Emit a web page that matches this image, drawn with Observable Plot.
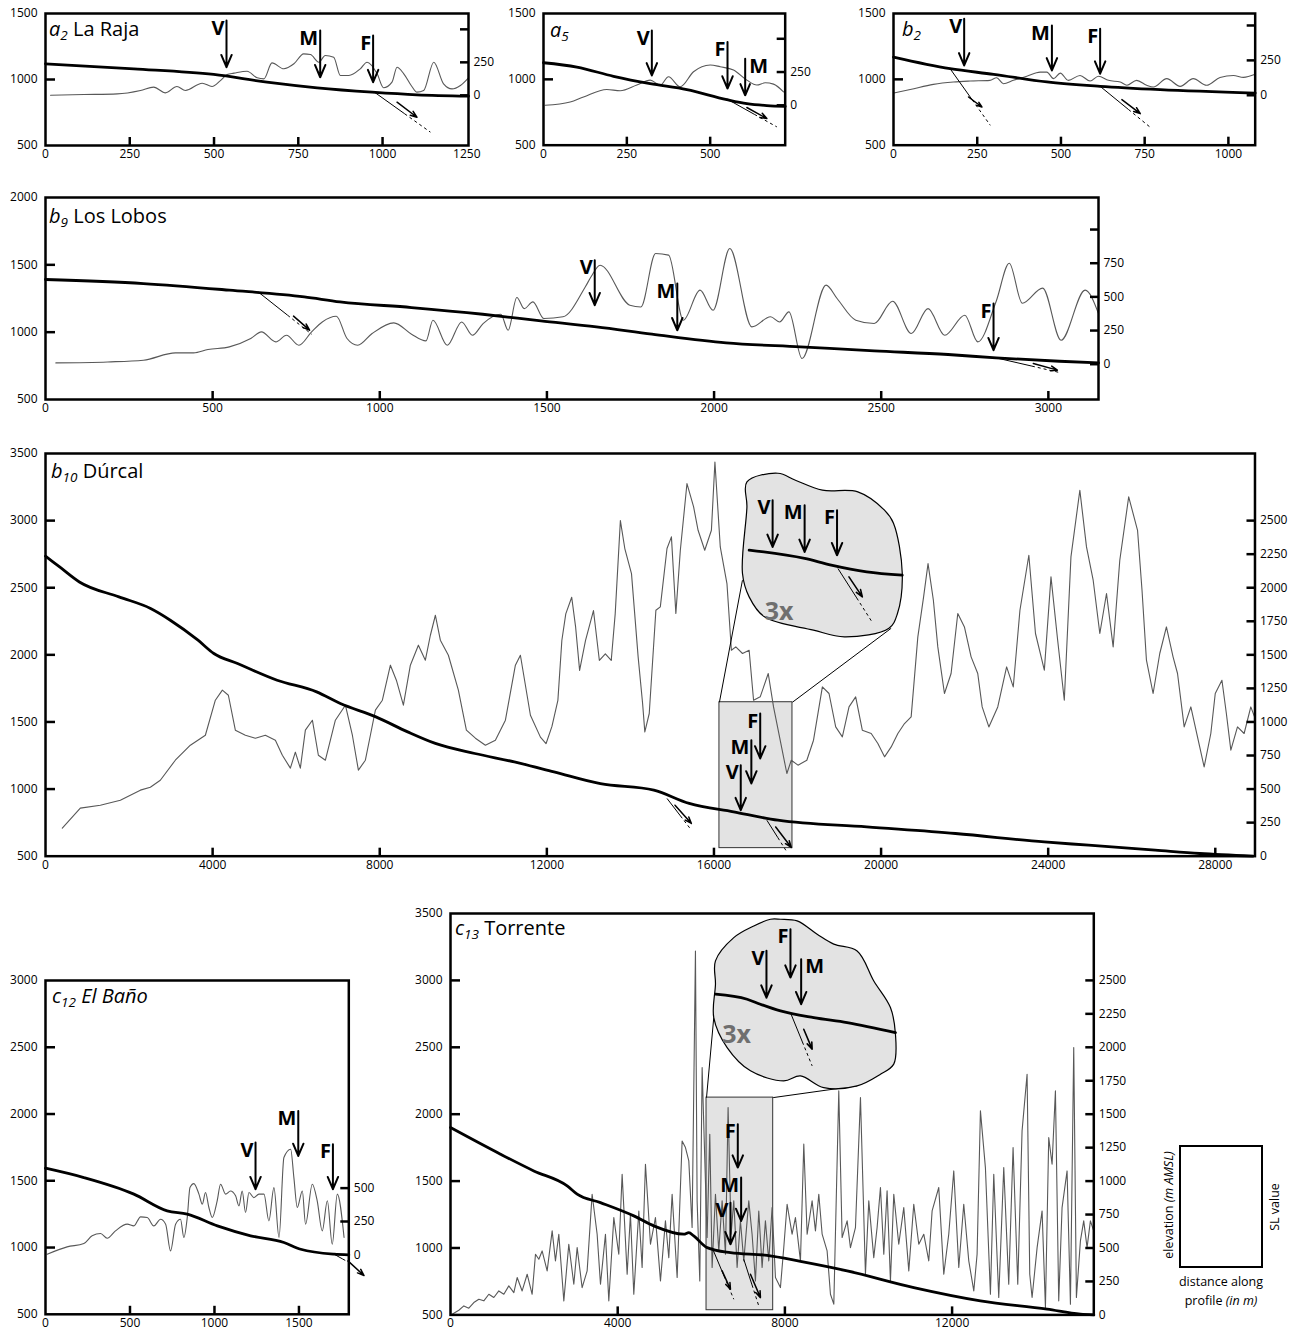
<!DOCTYPE html>
<html><head><meta charset="utf-8">
<script src="https://cdn.jsdelivr.net/npm/d3@7"></script>
<script src="https://cdn.jsdelivr.net/npm/@observablehq/plot@0.6"></script>
<style>
html,body{margin:0;padding:0;background:#fff;overflow:hidden;}
#root{position:relative;width:1296px;height:1338px;font-family:'Open Sans',sans-serif;}
.panel{position:absolute;}
#overlay{position:absolute;left:0;top:0;pointer-events:none;}
</style></head><body><div id="root"></div>
<script>
// ---------------- DATA ----------------
// a2 La Raja
const a2_dist = [0, 262, 499, 657, 806, 969, 1102, 1255];
const a2_elev = [1119, 1081, 1038, 980, 937, 904, 884, 874];
const a2_sl_dist = [15,114,213,282,321,356,390,415,465,494,519,539,559,598,628,648,672,707,737,766,786,811,830,855,875,900,934,954,984,1003,1028,1043,1063,1087,1102,1122,1152,1181,1206,1231,1255];
const a2_sl = [1,6,11,37,62,19,67,37,92,67,112,158,168,183,133,125,246,201,239,314,309,251,302,289,150,150,201,251,163,57,100,213,163,67,24,37,251,87,49,75,133];
const a2_knick = [["V",537,1447,1093,"L"],["M",815,1371,1017,"L"],["F",972,1333,980,"L"]];
const a2_faults = [[972,911,1142,601,1043,828,1102,714]];

// a5
const a5_dist = [0,100,210,320,430,550,610,670,725];
const a5_elev = [1126,1093,1023,967,922,846,816,801,795];
const a5_sl_dist = [5,80,120,190,230,280,320,350,375,410,450,500,530,570,610,640,665,690,720];
const a5_sl = [0,25,63,119,109,152,189,152,214,139,252,303,290,265,189,152,169,159,101];
const a5_knick = [["V",325,1371,1030,"L"],["F",552,1283,930,"L"],["M",605,1157,879,"R"]];
const a5_faults = [[550,851,700,639,610,786,670,702]];

// b2
const b2_dist = [0,169,299,458,617,796,1080];
const b2_elev = [1169,1081,1038,980,947,922,896];
const b2_sl_dist = [0,50,119,179,229,288,308,328,358,398,438,458,478,498,522,557,587,612,642,677,697,726,756,776,816,856,895,935,975,1015,1045,1080];
const b2_sl = [16,41,78,95,102,107,126,83,107,136,166,166,119,159,107,142,102,136,107,95,72,107,72,59,119,64,119,72,128,142,128,150];
const b2_knick = [["V",211,1460,1106,"L"],["M",473,1409,1068,"L"],["F",617,1384,1043,"L"]];
const b2_faults = [[169,1081,289,651,224,866,264,790],[617,947,771,627,682,846,737,740]];

// b9 Los Lobos
const b9_dist = [0,293,550,774,881,1095,1308,1482,1648,1814,2036,2258,2479,2700,2844,3033,3150];
const b9_elev = [1391,1361,1312,1262,1225,1183,1133,1084,1039,985,920,891,861,834,809,784,772];
const b9_sl_dist = [31,186,293,389,443,486,550,614,646,689,721,758,796,828,870,902,934,977,1042,1095,1138,1159,1202,1245,1277,1309,1362,1384,1410,1432,1458,1491,1548,1615,1632,1659,1748,1781,1825,1864,1908,1958,1997,2047,2113,2169,2196,2224,2263,2335,2368,2424,2479,2534,2590,2640,2690,2750,2789,2844,2883,2922,2983,3038,3110,3150];
const b9_sl = [10,17,30,84,84,109,129,191,240,166,215,141,240,314,356,191,141,228,307,223,173,327,141,314,215,302,371,252,495,413,463,339,352,575,649,735,438,425,822,810,327,550,401,859,277,352,314,389,42,587,488,327,302,468,228,413,215,364,166,468,750,453,565,178,550,376];
const b9_knick = [["V",1643,1534,1200,"L"],["M",1890,1361,1014,"L"],["F",2836,1213,866,"L"]];
const b9_faults = [[636,1299,796,985,742,1119,790,1015],[2844,809,3038,698,2955,768,3027,718]];

// b10 Dúrcal
const b10_dist = [0,338,811,1757,2515,2987,3650,4029,4596,5544,6490,7057,7909,8668,9331,10276,11222,12170,13282,14561,15407,16470,17530,19656,21781,23907,24968,26561,27624,28900];
const b10_elev = [2735,2655,2543,2432,2345,2258,2109,2010,1935,1811,1724,1637,1538,1426,1340,1265,1202,1128,1040,992,893,830,768,718,669,606,582,545,520,500];
const b10_sl_dist = [402,833,1312,1791,2270,2509,2748,3107,3467,3826,
4065,4233,4377,4544,4784,5023,5262,5502,5669,5861,
5980,6100,6220,6388,6531,6699,6938,7178,7345,7489,
7656,7776,7896,8063,8255,8398,8566,8733,8925,9092,
9212,9332,9451,9643,9882,10074,10290,10529,10768,11008,
11247,11367,11607,11846,11980,12122,12264,12359,12453,12595,
12689,12784,12926,13116,13257,13400,13541,13636,13760,13866,
14026,14185,14292,14345,14451,14610,14716,14876,14982,15088,
15195,15354,15513,15620,15779,15939,16023,16151,16311,16417,
16523,16683,16842,16948,17107,17299,17426,17585,17745,17851,
18011,18223,18383,18595,18754,18914,19073,19233,19392,19551,
19764,19923,20083,20242,20402,20561,20720,20880,21018,21124,
21252,21358,21517,21676,21836,21995,22155,22314,22420,22580,
22793,23005,23164,23324,23537,23696,23908,24067,24227,24386,
24545,24758,24917,25077,25236,25396,25555,25714,25927,26139,
26246,26352,26511,26671,26830,26989,27096,27255,27415,27627,
27733,27893,27999,28159,28265,28372,28531,28690,28850,28940];
const b10_sl = [209,358,380,417,492,514,566,715,827,901,
1162,1237,1199,939,901,879,901,864,752,656,
775,656,939,1013,752,715,1013,1125,901,641,
715,901,1088,1162,1423,1311,1125,1423,1572,1460,
1646,1795,1609,1497,1237,939,879,827,864,1013,
1423,1497,1050,887,838,967,1161,1607,1805,1929,
1706,1384,1607,1830,1458,1508,1458,1805,2500,2292,
2105,1485,1137,926,1063,1832,1857,2292,2379,1808,
2279,2776,2602,2428,2279,2428,2937,2304,2031,1534,
1559,1510,1534,1162,1187,1361,1112,864,616,715,
678,715,864,1261,1212,963,889,1112,1187,939,
914,839,740,814,914,988,1038,1634,1932,2180,
1907,1559,1212,1361,1808,1708,1485,1361,1112,963,
1112,1410,1261,1832,2242,1659,1386,2081,1609,1162,
2230,2726,2304,2056,1659,1957,1559,2205,2677,2428,
1981,1460,1212,1510,1708,1485,1361,963,1112,814,
665,914,1212,1311,1063,790,963,914,1112,1038];
const b10_knick = [["F",17107,1563,1228,"L"],["M",16895,1364,1042,"L"],["V",16641,1178,843,"L"]];
const b10_faults = [[14877,930,15460,694,15068,880,15460,744],[17266,768,17745,532,17478,718,17852,565]];
const b10_zoom_rect = [16131,17879,560,1647];
const b10_zoom_links = [[16131,1647,16682,2556],[17879,1647,20242,2198]];
const b10_zoom_outline = [[16789,3288],[17531,3353],[17950,3301],[18596,3227],[19444,3214],[20081,3078],[20297,2981],[20507,2608],[20392,2308],[20189,2198],[19123,2134],[18381,2184],[17208,2283],[16842,2432],[16682,2608],[16789,3102]];
const b10_zoom_profile = [[16842,2780],[18170,2718],[18808,2668],[19657,2618],[20507,2594]];
const b10_zoom_knick = [["V",17404,3152,2804,"L"],["M",18170,3115,2767,"L"],["F",18946,3078,2742,"L"]];
const b10_zoom_faults = [[18968,2643,19784,2245,19231,2581,19552,2432]];
const b10_zoom_label = [17213,2318];

// c12 El Baño
const c12_dist = [0,227,523,720,839,1017,1214,1411,1510,1708,1795];
const c12_elev = [1594,1524,1400,1275,1250,1162,1088,1038,987,950,945];
const c12_sl_dist = [10,128,227,276,326,365,414,484,523,563,602,641,681,711,740,770,799,819,839,855,878,908,928,947,967,987,1016,1036,1066,1095,1125,1145,1164,1184,1204,1233,1263,1293,1322,1352,1382,1411,1451,1470,1490,1520,1539,1579,1608,1638,1668,1697,1727,1767];
const c12_sl = [5,60,85,143,160,125,180,230,217,285,280,217,267,230,30,230,267,130,280,504,534,455,380,467,355,280,405,529,455,479,442,367,479,317,467,429,455,455,255,504,130,729,791,579,355,479,230,529,405,180,405,80,455,130];
const c12_knick = [["V",1243,1786,1437,"L"],["M",1496,2023,1686,"L"],["F",1701,1774,1437,"L"]];
const c12_faults = [[1708,950,1800,885,1790,900,1885,790]];

// c13 Torrente
const c13_dist = [0,1196,1993,2791,3030,3588,4385,4864,5581,5701,5820,6139,6698,7575,8372,9489,11084,12678,14273,15070,15390];
const c13_elev = [1900,1701,1576,1464,1402,1339,1240,1165,1103,1115,1090,1003,965,945,900,829,704,605,543,505,500];
const c13_sl_dist = [40,199,319,438,558,678,797,917,1036,1156,
1276,1395,1515,1595,1714,1834,1953,2033,2113,2192,
2312,2432,2511,2591,2711,2830,2950,3030,3149,3269,
3388,3508,3588,3707,3787,3907,4026,4106,4226,4305,
4385,4505,4584,4664,4784,4903,5023,5142,5222,5302,
5422,5541,5621,5701,5780,5860,5900,5964,6020,6075,
6139,6203,6259,6339,6418,6498,6578,6641,6713,6777,
6857,6936,7016,7136,7215,7295,7375,7455,7534,7614,
7694,7774,7893,7973,8053,8172,8252,8372,
8452,8532,8651,8731,8811,8891,9010,9090,9170,9289,
9369,9489,9568,9688,9808,9927,10007,10126,10206,10286,
10366,10445,10525,10605,10724,10844,10964,11083,11203,11322,
11442,11522,11681,11801,11920,12040,12160,12279,12399,12519,
12598,12678,12797,12917,12997,13116,13236,13355,13459,13571,
13674,13794,13858,13914,14034,14153,14233,14312,14392,14472,
14551,14631,14751,14831,14910,14974,15070,15149,15229,15309,
15388];
const c13_sl = [5,35,67,50,92,117,105,154,130,179,
154,217,167,279,179,304,154,453,416,478,
329,628,404,603,105,528,229,503,204,329,
902,603,229,603,105,727,453,1051,304,752,
154,777,354,1126,528,727,254,703,428,902,
279,1300,1251,1151,653,2720,852,254,1849,1251,
578,1350,354,902,478,852,453,1550,603,852,
354,703,404,852,603,254,777,354,703,404,
802,279,204,503,827,603,727,404,
1276,603,852,628,902,603,478,154,80,1674,
578,703,503,653,1624,304,852,428,653,952,
453,927,254,902,528,802,329,827,528,603,
404,777,952,304,603,1076,354,827,404,179,
453,1525,1101,154,1051,130,1101,229,1251,229,
1375,1799,304,130,503,777,55,1325,1126,1674,
105,802,1076,80,1998,130,553,703,503,703,
628];
const c13_knick = [["F",6873,1925,1601,"L"],["M",6953,1526,1202,"L"],["V",6698,1339,1028,"L"]];
const c13_faults = [[6259,1003,6777,617,6498,829,6698,692],[7016,916,7375,567,7176,804,7415,629]];
const c13_zoom_rect = [6125,7720,535,2124];
const c13_zoom_links = [[6125,2124,6298,2722],[7720,2124,9728,2212]];
const c13_zoom_outline = [[6339,3146],[6777,3320],[7255,3407],[7654,3457],[7894,3457],[8293,3445],[8772,3345],[9169,3271],[9728,3220],[10127,2996],[10525,2797],[10645,2598],[10604,2374],[10286,2299],[9728,2212],[8929,2199],[8372,2286],[7973,2249],[7176,2324],[6618,2498],[6298,2722],[6339,2972]];
const c13_zoom_profile = [[6339,2897],[7097,2859],[7415,2822],[7894,2772],[8691,2722],[9489,2685],[10645,2610]];
const c13_zoom_knick = [["V",7559,3221,2871,"L"],["F",8133,3383,3021,"L"],["M",8389,3158,2822,"R"]];
const c13_zoom_faults = [[8133,2759,8652,2361,8451,2635,8652,2486]];
const c13_zoom_label = [6499,2593];

// ---------------- DRAWING ----------------
const FONT = "'Open Sans', 'DejaVu Sans', sans-serif";
const root = document.getElementById("root");

function faultMarks(list, sw) {
  const f = 0.55;
  const solid = list.map(d => ({x1: d[0], y1: d[1], x2: d[0] + (d[2]-d[0])*f, y2: d[1] + (d[3]-d[1])*f}));
  const dash = list.map(d => ({x1: d[0] + (d[2]-d[0])*f, y1: d[1] + (d[3]-d[1])*f, x2: d[2], y2: d[3]}));
  const arr = list.map(d => ({x1: d[4], y1: d[5], x2: d[6], y2: d[7]}));
  return [
    Plot.link(solid, {x1: "x1", y1: "y1", x2: "x2", y2: "y2", stroke: "#000", strokeWidth: 1}),
    Plot.link(dash, {x1: "x1", y1: "y1", x2: "x2", y2: "y2", stroke: "#000", strokeWidth: 1, strokeDasharray: "3,3"}),
    Plot.arrow(arr, {x1: "x1", y1: "y1", x2: "x2", y2: "y2", stroke: "#000", strokeWidth: sw || 1.5, headLength: 7, headAngle: 40})
  ];
}
function knickMarks(list, fs) {
  return [
    Plot.arrow(list, {x1: d => d[1], x2: d => d[1], y1: d => d[2], y2: d => d[3], stroke: "#000", strokeWidth: 2, headLength: 10, headAngle: 46}),
    Plot.text(list.filter(d => d[4] === "L"), {x: d => d[1], y: d => d[2], text: d => d[0], textAnchor: "end", lineAnchor: "top", dx: -2, fontWeight: "bold", fontSize: fs || 20, fill: "#000"}),
    Plot.text(list.filter(d => d[4] === "R"), {x: d => d[1], y: d => d[2], text: d => d[0], textAnchor: "start", lineAnchor: "top", dx: 4, fontWeight: "bold", fontSize: fs || 20, fill: "#000"})
  ];
}

function drawPanel(cfg) {
  const [L, R, T, B] = cfg.frame;
  const mL = 46, mR = cfg.mR || 46, mT = 12, mB = 26;
  const width = R - L + mL + mR, height = B - T + mT + mB;
  const [x0, x1] = cfg.xDomain, [y0, y1] = cfg.yDomain;
  const pxX = (R - L) / (x1 - x0), pxY = (B - T) / (y1 - y0);
  const off = cfg.slOffset, k = cfg.slK;
  const toE = v => off + v * k;
  const curve = cfg.curve || "monotone-x";
  const elevRows = cfg.dist.map((d, i) => ({d, e: cfg.elev[i]}));
  const slRows = cfg.slDist.map((d, i) => ({d, e: toE(cfg.sl[i])}));
  const marks = [];
  if (cfg.inset) {
    const r = cfg.inset.rect;
    marks.push(Plot.rect([r], {x1: d => d[0], x2: d => d[1], y1: d => d[2], y2: d => d[3], fill: "#e3e3e3", stroke: "#333", strokeWidth: 1}));
  }
  marks.push(Plot.line(slRows, {x: "d", y: "e", stroke: "#585858", strokeWidth: 1.1, curve}));
  marks.push(Plot.line(elevRows, {x: "d", y: "e", stroke: "#000", strokeWidth: 2.8, curve: "monotone-x"}));
  marks.push(...faultMarks(cfg.faults));
  if (cfg.inset) {
    const ins = cfg.inset;
    marks.push(Plot.link(ins.links, {x1: d => d[0], y1: d => d[1], x2: d => d[2], y2: d => d[3], stroke: "#000", strokeWidth: 1}));
    marks.push(Plot.line(ins.outline, {x: d => d[0], y: d => d[1], curve: "catmull-rom-closed", fill: "#e3e3e3", stroke: "#000", strokeWidth: 1.2}));
    marks.push(Plot.line(ins.profile, {x: d => d[0], y: d => d[1], stroke: "#000", strokeWidth: 2.8, curve: "monotone-x"}));
    marks.push(...faultMarks(ins.faults, 1.6));
    marks.push(...knickMarks(ins.knick, 20));
    marks.push(Plot.text([ins.label], {x: d => d[0], y: d => d[1], text: () => "3x", textAnchor: "start", fill: "#6f6f6f", fontWeight: "bold", fontSize: 25}));
  }
  marks.push(...knickMarks(cfg.knick, 20));
  // axes: labels
  marks.push(Plot.axisX(cfg.xLabels, {tickSize: 0, tickPadding: 4, tickFormat: d => String(d)}));
  marks.push(Plot.axisY(cfg.yLabels, {anchor: "left", tickSize: 0, tickPadding: 8, tickFormat: d => String(d)}));
  marks.push(Plot.axisY(cfg.slLabels.map(toE), {anchor: "right", tickSize: 0, tickPadding: 5, tickFormat: d => String(Math.round((d - off) / k))}));
  // inward ticks
  marks.push(Plot.ruleX(cfg.xTicks, {x: d => d, y1: y0, y2: y0 + 8 / pxY, stroke: "#000", strokeWidth: 2.5}));
  marks.push(Plot.ruleY(cfg.yTicks, {y: d => d, x1: x0, x2: x0 + 10 / pxX, stroke: "#000", strokeWidth: 2.5}));
  marks.push(Plot.ruleY(cfg.slTicks.map(toE), {y: d => d, x1: x1 - 8 / pxX, x2: x1, stroke: "#000", strokeWidth: 2.5}));
  marks.push(Plot.frame({stroke: "#000", strokeWidth: 2.5}));
  const chart = Plot.plot({
    width, height, marginLeft: mL, marginRight: mR, marginTop: mT, marginBottom: mB,
    x: {domain: cfg.xDomain}, y: {domain: cfg.yDomain},
    style: {fontFamily: FONT, fontSize: "12px", background: "transparent", overflow: "visible", color: "#000"},
    marks
  });
  const div = document.createElement("div");
  div.className = "panel";
  div.style.left = (L - mL) + "px";
  div.style.top = (T - mT) + "px";
  div.appendChild(chart);
  root.appendChild(div);
}

const slSmall = [0, 250, 500];
const big = [250,500,750,1000,1250,1500,1750,2000,2250,2500];

drawPanel({frame: [45, 468, 13, 145], xDomain: [0, 1255], yDomain: [500, 1500],
  xLabels: [0,250,500,750,1000,1250], xTicks: [250,500,750,1000], yLabels: [500,1000,1500], yTicks: [1000],
  slOffset: 880, slK: 1.0, slTicks: slSmall, slLabels: [0,250],
  dist: a2_dist, elev: a2_elev, slDist: a2_sl_dist, sl: a2_sl, knick: a2_knick, faults: a2_faults});
drawPanel({frame: [543.3, 785, 13.3, 145], xDomain: [0, 725], yDomain: [500, 1500],
  xLabels: [0,250,500], xTicks: [250,500], yLabels: [500,1000,1500], yTicks: [1000],
  slOffset: 803, slK: 1.01, slTicks: slSmall, slLabels: [0,250],
  dist: a5_dist, elev: a5_elev, slDist: a5_sl_dist, sl: a5_sl, knick: a5_knick, faults: a5_faults});
drawPanel({frame: [893.3, 1255, 13.3, 145], xDomain: [0, 1080], yDomain: [500, 1500], mR: 40,
  xLabels: [0,250,500,750,1000], xTicks: [250,500,750,1000], yLabels: [500,1000,1500], yTicks: [1000],
  slOffset: 879, slK: 1.06, slTicks: slSmall, slLabels: [0,250],
  dist: b2_dist, elev: b2_elev, slDist: b2_sl_dist, sl: b2_sl, knick: b2_knick, faults: b2_faults});
drawPanel({frame: [45, 1098, 197.3, 399.3], xDomain: [0, 3150], yDomain: [500, 2000],
  xLabels: [0,500,1000,1500,2000,2500,3000], xTicks: [500,1000,1500,2000,2500,3000], yLabels: [500,1000,1500,2000], yTicks: [1000,1500],
  slOffset: 762, slK: 1.0, slTicks: [0,250,500,750,1000], slLabels: [0,250,500,750],
  dist: b9_dist, elev: b9_elev, slDist: b9_sl_dist, sl: b9_sl, knick: b9_knick, faults: b9_faults});
drawPanel({frame: [45.2, 1254.7, 453.3, 856], xDomain: [0, 28950], yDomain: [500, 3500], mR: 40, curve: "linear",
  xLabels: [0,4000,8000,12000,16000,20000,24000,28000], xTicks: [4000,8000,12000,16000,20000,24000,28000],
  yLabels: [500,1000,1500,2000,2500,3000,3500], yTicks: [1000,1500,2000,2500,3000],
  slOffset: 500, slK: 1.0, slTicks: big, slLabels: [0].concat(big),
  dist: b10_dist, elev: b10_elev, slDist: b10_sl_dist, sl: b10_sl, knick: b10_knick, faults: b10_faults,
  inset: {rect: b10_zoom_rect, links: b10_zoom_links, outline: b10_zoom_outline, profile: b10_zoom_profile,
          knick: b10_zoom_knick, faults: b10_zoom_faults, label: b10_zoom_label}});
drawPanel({frame: [45, 348.3, 979.5, 1313.3], xDomain: [0, 1795], yDomain: [500, 3000],
  xLabels: [0,500,1000,1500], xTicks: [500,1000,1500], yLabels: [500,1000,1500,2000,2500,3000], yTicks: [1000,1500,2000,2500],
  slOffset: 945, slK: 1.0, slTicks: [250,500], slLabels: [0,250,500],
  dist: c12_dist, elev: c12_elev, slDist: c12_sl_dist, sl: c12_sl, knick: c12_knick, faults: c12_faults});
drawPanel({frame: [450, 1093.3, 912.6, 1314], xDomain: [0, 15390], yDomain: [500, 3500], curve: "linear",
  xLabels: [0,4000,8000,12000], xTicks: [4000,8000,12000],
  yLabels: [500,1000,1500,2000,2500,3000,3500], yTicks: [1000,1500,2000,2500,3000],
  slOffset: 500, slK: 1.0, slTicks: big, slLabels: [0].concat(big),
  dist: c13_dist, elev: c13_elev, slDist: c13_sl_dist, sl: c13_sl, knick: c13_knick, faults: c13_faults,
  inset: {rect: c13_zoom_rect, links: c13_zoom_links, outline: c13_zoom_outline, profile: c13_zoom_profile,
          knick: c13_zoom_knick, faults: c13_zoom_faults, label: c13_zoom_label}});

// ---------------- TITLES & LEGEND ----------------
const titles = [
  {x: 49, y: 36, letter: "a", sub: "2", name: " La Raja", italic: false},
  {x: 550, y: 36.5, letter: "a", sub: "5", name: "", italic: false},
  {x: 902, y: 36, letter: "b", sub: "2", name: "", italic: false},
  {x: 49, y: 223, letter: "b", sub: "9", name: " Los Lobos", italic: false},
  {x: 51, y: 478, letter: "b", sub: "10", name: " Dúrcal", italic: false},
  {x: 52, y: 1003, letter: "c", sub: "12", name: " El Baño", italic: true},
  {x: 455, y: 935, letter: "c", sub: "13", name: " Torrente", italic: false}
];
let svg = `<svg id="overlay" width="1296" height="1338" xmlns="http://www.w3.org/2000/svg" style="font-family:${FONT}">`;
for (const t of titles) {
  svg += `<text x="${t.x}" y="${t.y}" font-size="20" fill="#000"${t.italic ? ' font-style="italic"' : ''}>` +
    `<tspan font-style="italic">${t.letter}</tspan><tspan font-style="italic" font-size="13.5" dy="4">${t.sub}</tspan>` +
    `<tspan dy="-4">${t.name}</tspan></text>`;
}
svg += `<rect x="1180" y="1146" width="82" height="121" fill="none" stroke="#000" stroke-width="2"/>`;
svg += `<text transform="translate(1173,1205) rotate(-90)" text-anchor="middle" font-size="12.5">elevation <tspan font-style="italic">(m AMSL)</tspan></text>`;
svg += `<text transform="translate(1279,1207) rotate(-90)" text-anchor="middle" font-size="12.5">SL value</text>`;
svg += `<text x="1221" y="1286" text-anchor="middle" font-size="12.5">distance along</text>`;
svg += `<text x="1221" y="1305" text-anchor="middle" font-size="12.5">profile <tspan font-style="italic">(in m)</tspan></text>`;
svg += `</svg>`;
root.insertAdjacentHTML("beforeend", svg);
</script></body></html>
